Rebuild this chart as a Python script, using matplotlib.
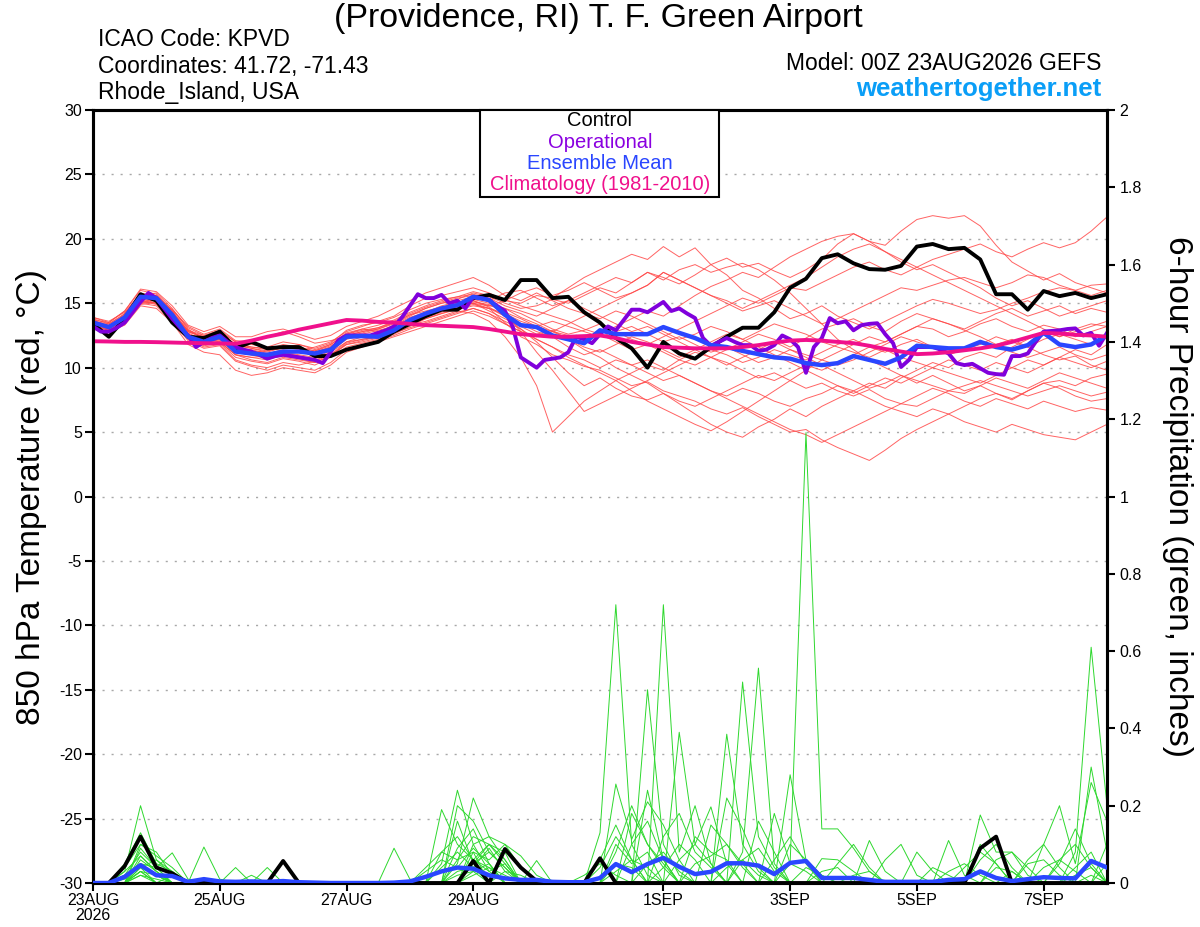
import numpy as np
import matplotlib
matplotlib.use("Agg")
import matplotlib.pyplot as plt
from matplotlib.patches import Rectangle

plt.rcParams['font.family'] = ['Liberation Sans', 'DejaVu Sans']

# ---------------- DATA ----------------
n_steps = 65            # 6-hourly, 23AUG00Z .. 8SEP00Z
n_op = 129              # operational run, 3-hourly
tick_days = [0, 2, 4, 6, 9, 11, 13, 15]
tick_labels = ['23AUG\n2026', '25AUG', '27AUG', '29AUG', '1SEP', '3SEP', '5SEP', '7SEP']
temp_ticks = [-30, -25, -20, -15, -10, -5, 0, 5, 10, 15, 20, 25, 30]
precip_ticks = [0, 0.2, 0.4, 0.6, 0.8, 1, 1.2, 1.4, 1.6, 1.8, 2]
precip_tick_labels = ['0', '0.2', '0.4', '0.6', '0.8', '1', '1.2', '1.4', '1.6', '1.8', '2']

control_temp = [13.4, 12.4, 13.8, 15.7, 15.2, 13.5, 12.4, 12.3, 12.8, 11.5, 12.0, 11.5, 11.6,
                11.6, 10.9, 10.9, 11.4, 11.7, 12.0, 12.8, 13.4, 14.0, 14.5, 14.5, 15.4, 15.65,
                15.25, 16.8, 16.8, 15.4, 15.5, 14.3, 13.5, 12.3, 11.5, 10.0, 12.0, 11.1, 10.7,
                11.6, 12.4, 13.1, 13.1, 14.3, 16.2, 16.9, 18.5, 18.8, 18.1, 17.65, 17.6, 17.9,
                19.4, 19.6, 19.2, 19.3, 18.4, 15.7, 15.7, 14.5, 15.95, 15.55, 15.8, 15.4, 15.7]

mean_temp = [13.5, 13.15, 13.9, 15.5, 15.4, 14.1, 12.4, 12.0, 12.4, 11.25, 11.1, 11.0, 11.25,
             11.25, 11.1, 11.4, 12.4, 12.45, 12.4, 12.9, 13.7, 14.2, 14.6, 14.85, 15.5, 15.25,
             14.1, 13.3, 13.15, 12.5, 12.2, 11.9, 12.9, 12.6, 12.6, 12.6, 13.15, 12.7, 12.3,
             11.75, 11.6, 11.3, 11.05, 10.8, 10.7, 10.35, 10.2, 10.35, 10.9, 10.6, 10.3, 10.8,
             11.7, 11.6, 11.5, 11.5, 12.0, 11.6, 11.4, 11.75, 12.7, 11.8, 11.6, 11.8, 12.5]

clim_temp = [12.05, 12.03, 12.0, 12.0, 11.98, 11.95, 11.92, 11.9, 11.88, 11.86, 12.1, 12.4, 12.65,
             12.95, 13.2, 13.45, 13.7, 13.65, 13.55, 13.5, 13.4, 13.3, 13.25, 13.2, 13.15, 13.0,
             12.8, 12.6, 12.5, 12.4, 12.4, 12.45, 12.5, 12.3, 12.0, 11.8, 11.6, 11.55, 11.5,
             11.5, 11.5, 11.6, 11.75, 11.95, 12.1, 12.15, 12.1, 12.0, 11.9, 11.7, 11.45, 11.25,
             11.05, 11.1, 11.2, 11.35, 11.5, 11.7, 12.0, 12.35, 12.7, 12.65, 12.55, 12.5, 12.4]

oper_temp = [13.2, 12.8, 12.8, 13.1, 13.5, 14.3, 15.1, 15.8, 15.4, 14.6, 13.8, 13.1, 12.5, 11.6,
             12.0, 12.3, 12.5, 12.0, 11.6, 11.4, 11.25, 11.0, 10.7, 10.9, 11.0, 10.9, 10.8, 10.7,
             10.6, 10.35, 11.2, 12.15, 12.5, 12.5, 12.5, 12.5, 12.7, 12.9, 13.2, 13.9, 14.8, 15.7,
             15.4, 15.4, 15.65, 15.0, 15.2, 14.6, 15.5, 15.4, 15.25, 14.8, 14.4, 13.15, 10.8, 10.4,
             10.0, 10.6, 10.7, 10.8, 11.2, 12.4, 12.2, 11.9, 12.6, 13.2, 12.9, 13.7, 14.5, 14.5,
             14.3, 14.7, 15.1, 14.4, 14.6, 14.2, 13.85, 12.3, 11.7, 12.0, 12.3, 12.0, 11.75, 11.75,
             11.3, 11.4, 11.75, 12.5, 12.2, 11.6, 9.6, 11.6, 12.3, 13.85, 13.45, 13.6, 12.9, 13.3,
             13.4, 13.45, 12.6, 11.9, 10.05, 10.6, 11.6, 11.6, 11.6, 11.4, 11.1, 10.35, 10.2, 10.3,
             9.95, 9.6, 9.5, 9.45, 10.9, 10.9, 11.1, 12.0, 12.8, 12.85, 12.9, 13.0, 13.05, 12.5,
             12.7, 11.7, 12.7]

member_temps = [
    [13.6, 13.0, 14.2, 15.8, 15.5, 14.3, 12.8, 12.4, 12.6, 11.7, 11.5, 11.2, 11.6, 11.4, 11.0, 11.5,
     12.5, 12.8, 13.0, 13.4, 14.0, 14.6, 15.0, 15.3, 15.8, 15.5, 15.0, 14.6, 14.8, 15.3, 15.0, 15.6,
     16.2, 15.8, 16.6, 17.4, 17.0, 16.5, 17.2, 18.0, 18.5, 17.8, 18.1, 17.5, 17.0, 17.6, 18.4, 19.6,
     20.4, 19.8, 19.5, 20.6, 21.5, 21.8, 21.6, 21.8, 21.0, 19.5, 18.2, 17.5, 16.8, 17.3, 16.6, 16.2, 15.8],
    [13.4, 13.3, 14.0, 15.6, 15.8, 14.6, 13.0, 12.2, 12.0, 11.0, 10.8, 10.6, 11.0, 11.3, 11.6, 12.0,
     12.8, 13.2, 13.6, 14.0, 14.8, 15.4, 15.6, 15.9, 16.2, 15.8, 15.2, 15.0, 15.6, 15.4, 16.2, 17.0,
     17.6, 18.2, 18.8, 18.4, 19.4, 18.6, 19.3, 18.0, 17.2, 16.0, 15.4, 14.6, 13.8, 14.2, 14.8, 14.0,
     13.5, 13.0, 13.6, 14.2, 14.8, 15.3, 15.0, 14.6, 14.2, 14.5, 15.0, 15.4, 15.9, 16.2, 16.0, 16.4, 16.5],
    [13.2, 12.9, 13.6, 15.2, 15.0, 13.8, 12.3, 11.6, 11.8, 10.6, 10.2, 10.0, 10.4, 10.2, 10.5, 11.0,
     11.8, 12.0, 12.3, 12.6, 13.2, 13.8, 14.2, 14.5, 14.8, 14.6, 13.5, 12.4, 11.8, 11.0, 10.6, 10.1,
     9.8, 9.2, 8.6, 8.9, 8.2, 7.8, 7.4, 6.8, 6.4, 6.9, 6.2, 5.6, 5.0, 5.2, 4.4, 3.8,
     3.3, 2.8, 3.6, 4.5, 5.2, 5.8, 6.4, 7.0, 7.6, 8.0, 7.5, 8.2, 8.8, 9.0, 8.6, 9.2, 9.5],
    [13.8, 13.4, 14.1, 15.5, 15.2, 14.0, 12.6, 12.0, 12.1, 11.2, 11.0, 10.8, 11.1, 10.9, 10.7, 11.2,
     12.0, 12.2, 12.4, 12.9, 13.3, 13.6, 14.0, 14.4, 14.2, 13.6, 12.4, 10.8, 8.6, 5.0, 6.2, 7.4,
     8.2, 9.0, 9.6, 10.2, 9.8, 10.6, 11.2, 10.8, 11.4, 12.0, 12.6, 12.2, 11.6, 12.3, 13.0, 13.4,
     13.8, 13.2, 12.8, 13.6, 14.2, 13.8, 13.4, 12.9, 12.4, 11.8, 12.2, 11.6, 11.0, 10.6, 10.9, 10.2, 9.8],
    [13.0, 12.7, 13.5, 15.0, 15.3, 14.2, 12.9, 12.3, 12.6, 11.6, 11.2, 11.3, 11.5, 11.8, 11.4, 11.8,
     12.6, 13.0, 12.8, 13.3, 13.9, 14.3, 14.8, 15.1, 15.0, 14.4, 13.8, 13.2, 12.6, 12.9, 12.2, 11.4,
     10.8, 10.0, 9.4, 8.8, 8.0, 7.2, 6.4, 5.6, 5.0, 4.6, 5.4, 6.0, 6.8, 6.2, 7.0, 7.6,
     8.2, 8.8, 8.4, 9.2, 9.8, 10.4, 10.0, 10.8, 11.2, 10.8, 11.6, 12.2, 12.8, 12.4, 13.0, 13.4, 13.2],
    [13.5, 13.1, 13.8, 15.3, 15.6, 14.4, 12.7, 12.1, 12.4, 11.4, 11.3, 11.0, 11.2, 10.9, 10.6, 11.0,
     12.0, 12.4, 12.7, 13.1, 13.6, 14.0, 14.4, 14.8, 15.3, 15.0, 14.6, 14.2, 13.6, 13.0, 12.6, 12.9,
     13.4, 12.8, 12.2, 11.8, 12.4, 13.0, 13.6, 14.2, 14.8, 15.4, 15.0, 15.6, 16.2, 16.0, 16.6, 17.2,
     17.8, 18.2, 17.6, 17.2, 17.8, 18.4, 18.8, 19.2, 19.6, 19.0, 18.6, 19.2, 19.7, 19.3, 19.7, 20.6, 21.7],
    [13.7, 13.5, 14.4, 16.0, 15.7, 14.4, 12.9, 12.5, 12.9, 12.0, 11.8, 11.6, 12.0, 11.8, 11.5, 11.9,
     12.9, 13.3, 13.5, 13.9, 14.5, 15.0, 15.3, 15.5, 15.9, 15.6, 15.3, 14.8, 14.4, 14.0, 13.6, 13.0,
     12.6, 13.2, 13.8, 14.4, 14.0, 14.8, 15.6, 16.3, 16.8, 17.4, 17.0, 17.8, 18.6, 19.2, 19.8, 20.2,
     20.4, 19.8, 19.0, 18.2, 17.6, 18.0, 17.4, 16.8, 16.2, 15.4, 14.8, 15.2, 14.6, 14.0, 14.4, 14.8, 15.2],
    [13.3, 13.0, 13.7, 15.1, 15.0, 13.9, 12.4, 11.8, 12.0, 11.0, 10.8, 10.9, 11.2, 11.0, 10.8, 11.3,
     12.2, 12.5, 12.6, 13.0, 13.5, 14.1, 14.5, 14.8, 15.1, 14.9, 14.3, 13.8, 13.2, 12.8, 12.5, 12.2,
     12.6, 12.0, 11.4, 11.8, 11.2, 10.6, 10.2, 10.8, 10.4, 9.8, 9.2, 9.6, 9.0, 8.4, 8.8, 8.2,
     7.8, 8.3, 7.6, 7.2, 7.8, 8.4, 8.0, 7.4, 7.0, 7.6, 7.2, 6.8, 7.4, 7.0, 6.6, 6.9, 6.7],
    [13.9, 13.6, 14.3, 15.7, 15.4, 14.5, 13.2, 12.6, 13.0, 12.1, 12.0, 12.4, 12.8, 12.4, 11.9, 12.1,
     12.4, 12.7, 13.0, 13.5, 14.1, 14.4, 14.7, 15.0, 15.2, 14.7, 14.0, 13.0, 12.0, 10.8, 9.6, 8.6,
     9.2, 8.4, 7.8, 7.5, 8.0, 7.4, 7.0, 7.6, 8.2, 8.8, 9.4, 9.0, 9.6, 10.2, 9.8, 10.4,
     11.0, 11.6, 11.2, 11.8, 12.2, 11.6, 11.0, 11.4, 11.8, 12.4, 12.0, 11.6, 12.2, 12.6, 12.2, 11.8, 12.3],
    [13.1, 12.8, 13.4, 14.9, 15.1, 14.0, 12.5, 11.9, 12.2, 11.3, 11.0, 10.7, 10.9, 10.7, 10.4, 10.9,
     11.8, 12.1, 12.4, 12.8, 13.4, 13.9, 14.3, 14.7, 15.0, 14.8, 15.2, 15.8, 16.2, 15.6, 16.0, 16.6,
     16.0, 15.4, 15.8, 16.4, 17.4, 16.8, 16.2, 15.6, 15.0, 14.4, 14.8, 15.2, 14.6, 14.0, 13.4, 13.8,
     14.4, 15.0, 15.6, 16.2, 16.0, 16.4, 16.8, 17.0, 16.6, 16.2, 16.6, 17.2, 17.0, 16.4, 16.0, 15.6, 16.0],
    [13.4, 13.2, 14.0, 15.4, 15.0, 13.7, 12.2, 11.7, 11.9, 10.8, 10.5, 10.3, 10.7, 10.5, 10.2, 10.8,
     11.6, 11.9, 12.2, 12.7, 13.1, 13.5, 13.9, 14.3, 14.6, 14.2, 13.4, 12.8, 12.2, 11.6, 11.0, 10.6,
     10.0, 10.6, 10.2, 9.6, 9.0, 9.4, 8.8, 8.2, 7.8, 8.4, 8.0, 7.4, 7.0, 7.6, 8.0, 8.6,
     8.2, 7.6, 7.0, 6.6, 6.2, 6.8, 6.4, 5.8, 5.4, 5.0, 5.6, 5.2, 4.8, 4.6, 4.4, 5.0, 5.6],
    [13.6, 13.3, 14.0, 15.5, 15.4, 14.1, 12.6, 12.2, 12.4, 11.5, 11.4, 11.1, 11.4, 11.2, 11.2, 11.6,
     12.6, 12.9, 13.1, 13.6, 14.2, 14.7, 15.1, 15.4, 15.6, 15.1, 14.2, 12.8, 11.2, 9.8, 8.2, 6.6,
     7.2, 7.8, 8.4, 9.0, 9.6, 10.2, 10.8, 11.4, 11.0, 10.4, 10.8, 11.4, 11.0, 10.6, 11.2, 11.8,
     12.2, 11.6, 12.0, 12.6, 13.2, 13.0, 12.4, 12.8, 13.4, 13.8, 13.2, 12.8, 13.3, 13.0, 12.4, 12.8, 13.2],
    [13.2, 13.0, 13.6, 15.2, 15.2, 14.2, 12.8, 12.3, 12.6, 11.8, 11.5, 11.3, 11.6, 11.5, 11.3, 11.7,
     12.4, 12.6, 12.9, 13.2, 13.8, 14.2, 14.6, 14.9, 15.2, 14.8, 14.6, 13.9, 13.4, 12.8, 12.2, 11.6,
     11.2, 11.8, 12.4, 12.0, 11.4, 10.8, 11.4, 12.0, 12.6, 12.2, 11.6, 11.0, 10.4, 9.8, 9.2, 8.6,
     8.0, 8.6, 9.2, 8.8, 9.4, 10.0, 9.6, 9.2, 8.8, 9.4, 10.0, 10.6, 10.2, 10.8, 11.4, 11.0, 11.8],
    [13.5, 13.0, 13.7, 15.2, 14.9, 13.8, 12.3, 11.8, 12.0, 11.0, 10.6, 10.4, 10.8, 10.6, 10.4, 10.9,
     11.9, 12.2, 12.4, 12.9, 13.4, 13.8, 14.2, 14.6, 14.9, 14.6, 14.0, 13.4, 12.8, 12.4, 11.6, 11.0,
     11.4, 10.8, 10.2, 10.6, 10.0, 9.4, 8.8, 8.2, 7.6, 7.0, 6.4, 5.8, 5.2, 4.8, 4.2, 4.8,
     5.4, 6.0, 6.6, 7.2, 7.0, 7.6, 8.2, 8.0, 8.6, 9.2, 8.8, 8.4, 9.0, 9.6, 9.2, 8.8, 8.4],
    [13.9, 13.5, 14.4, 16.1, 15.9, 14.8, 13.3, 12.8, 13.2, 12.4, 12.4, 12.8, 13.0, 12.6, 12.2, 12.5,
     13.2, 13.6, 14.0, 14.6, 15.2, 15.8, 16.2, 16.6, 17.0, 16.4, 15.6, 15.2, 15.8, 15.2, 14.6, 14.2,
     13.8, 14.4, 14.0, 13.4, 12.8, 12.2, 12.6, 13.2, 12.8, 12.2, 12.8, 13.4, 13.0, 12.6, 12.0, 11.6,
     11.2, 10.8, 11.4, 10.8, 10.4, 10.0, 10.6, 10.2, 9.8, 10.4, 10.0, 9.6, 10.2, 10.8, 10.4, 10.0, 10.5],
    [13.3, 12.9, 13.5, 15.0, 14.8, 13.6, 12.1, 11.5, 11.7, 10.5, 10.1, 9.8, 10.2, 10.0, 9.8, 10.4,
     11.4, 11.8, 12.1, 12.5, 13.0, 13.4, 13.8, 14.2, 14.6, 14.2, 13.6, 13.0, 12.2, 11.6, 10.8, 10.2,
     9.6, 9.0, 8.2, 7.4, 6.8, 6.2, 5.6, 5.1, 5.8, 6.6, 7.4, 8.2, 9.0, 9.8, 10.6, 11.2,
     11.8, 12.4, 12.0, 12.6, 13.2, 13.8, 13.4, 13.0, 13.6, 14.2, 14.6, 14.0, 14.4, 14.8, 14.2, 14.6, 14.3],
    [13.6, 13.4, 14.2, 15.7, 15.6, 14.5, 13.1, 12.5, 12.8, 11.8, 11.6, 11.4, 11.8, 11.6, 11.3, 11.8,
     12.7, 13.0, 13.3, 13.7, 14.3, 14.8, 15.2, 15.5, 15.7, 15.4, 14.8, 14.4, 14.0, 14.6, 15.2, 15.8,
     16.4, 17.0, 16.6, 17.4, 16.8, 17.6, 18.0, 17.4, 17.8, 18.1, 17.6, 16.8, 15.8, 14.6, 13.4, 12.2,
     11.4, 10.6, 10.0, 9.4, 8.8, 9.4, 8.8, 8.2, 8.6, 8.0, 7.6, 8.2, 8.8, 8.4, 7.8, 7.4, 7.6],
    [13.4, 13.1, 13.9, 15.4, 15.2, 14.0, 12.4, 12.0, 12.2, 11.2, 11.0, 10.9, 11.1, 11.2, 11.0, 11.4,
     12.3, 12.5, 12.6, 13.1, 13.7, 14.2, 14.5, 14.8, 15.0, 14.6, 14.2, 13.6, 13.2, 13.6, 13.2, 12.8,
     12.4, 12.8, 13.2, 12.6, 12.0, 12.4, 11.8, 11.2, 11.6, 11.0, 10.4, 10.8, 11.4, 11.0, 10.6, 10.2,
     10.6, 11.2, 11.8, 12.4, 12.0, 11.6, 11.2, 11.6, 12.0, 11.6, 11.2, 10.8, 11.2, 11.6, 11.0, 10.6, 11.0],
    [13.7, 13.2, 13.9, 15.4, 15.5, 14.3, 12.8, 12.4, 12.8, 12.0, 11.6, 11.5, 11.7, 11.4, 11.2, 11.6,
     12.5, 12.8, 13.1, 13.5, 14.1, 14.6, 15.0, 15.2, 15.5, 15.2, 15.8, 16.0, 15.4, 14.8, 15.2, 14.6,
     14.0, 13.4, 12.8, 13.2, 12.6, 12.0, 11.4, 10.8, 10.2, 10.8, 11.4, 12.0, 11.4, 10.8, 10.2, 9.6,
     9.0, 8.4, 8.8, 9.4, 9.0, 8.6, 8.2, 8.6, 9.0, 8.6, 8.2, 7.8, 8.2, 8.6, 8.2, 7.8, 8.1],
    [13.0, 12.8, 13.3, 14.8, 14.6, 13.5, 11.8, 11.2, 11.0, 9.8, 9.4, 9.6, 10.0, 9.8, 9.6, 10.2,
     11.2, 11.6, 12.0, 12.4, 12.8, 13.2, 13.6, 14.0, 14.4, 14.0, 13.4, 12.8, 12.4, 12.8, 13.4, 14.0,
     14.6, 15.2, 15.8, 16.4, 17.4, 16.8, 16.2, 15.6, 15.2, 14.6, 15.2, 15.8, 16.4, 17.0, 17.8, 18.6,
     19.2, 19.6, 19.0, 18.4, 17.8, 17.2, 16.6, 16.0, 15.4, 14.8, 14.2, 13.6, 13.0, 12.4, 12.8, 13.2, 13.6],
]

control_precip = [0, 0, 0.044, 0.12, 0.04, 0.025, 0, 0, 0, 0, 0, 0, 0.057, 0, 0, 0, 0, 0, 0, 0,
                  0, 0, 0, 0, 0.057, 0, 0.088, 0.04, 0.005, 0, 0, 0, 0.064, 0, 0, 0, 0, 0, 0, 0,
                  0, 0, 0, 0, 0, 0, 0, 0, 0, 0, 0, 0, 0, 0, 0, 0, 0.09, 0.12, 0, 0, 0, 0, 0, 0, 0]

mean_precip = [0, 0, 0.016, 0.046, 0.02, 0.018, 0.003, 0.01, 0.004, 0.003, 0.004, 0.003, 0.005,
               0.002, 0.001, 0, 0, 0, 0, 0.001, 0.004, 0.016, 0.03, 0.04, 0.037, 0.02, 0.012,
               0.008, 0.008, 0.003, 0.002, 0.002, 0.013, 0.049, 0.028, 0.049, 0.065, 0.042, 0.023,
               0.029, 0.051, 0.051, 0.045, 0.023, 0.052, 0.057, 0.013, 0.013, 0.013, 0.008, 0.003,
               0.003, 0.003, 0.003, 0.008, 0.01, 0.03, 0.013, 0.005, 0.01, 0.015, 0.013, 0.012,
               0.057, 0.04]

# member precipitation: {6-hour step: inches}; steps not listed are 0
member_precip = [
    {2: 0.03, 3: 0.2, 4: 0.06, 5: 0.02, 22: 0.05, 23: 0.24, 24: 0.1, 25: 0.03, 32: 0.13, 33: 0.72,
     34: 0.1, 35: 0.02, 44: 0.05, 45: 1.165, 46: 0.14, 47: 0.14, 48: 0.09, 49: 0.03, 63: 0.02},
    {2: 0.05, 3: 0.13, 4: 0.05, 5: 0.03, 19: 0.09, 20: 0.01, 23: 0.05, 24: 0.22, 25: 0.12, 26: 0.06,
     35: 0.5, 36: 0.1, 37: 0.02, 41: 0.08, 42: 0.556, 43: 0.05, 56: 0.176, 57: 0.08, 58: 0.08, 59: 0.02},
    {3: 0.1, 4: 0.08, 5: 0.02, 7: 0.093, 8: 0.01, 22: 0.19, 23: 0.1, 24: 0.06, 25: 0.04, 36: 0.72,
     37: 0.08, 38: 0.2, 39: 0.05, 62: 0.08, 63: 0.61, 64: 0.2},
    {2: 0.02, 3: 0.08, 4: 0.04, 5: 0.078, 6: 0.01, 23: 0.2, 24: 0.16, 25: 0.08, 26: 0.04, 37: 0.39,
     38: 0.1, 39: 0.197, 40: 0.05, 60: 0.1, 61: 0.2, 62: 0.05, 63: 0.26, 64: 0.16},
    {3: 0.06, 4: 0.03, 9: 0.04, 24: 0.1, 25: 0.12, 26: 0.1, 27: 0.04, 33: 0.256, 34: 0.113, 35: 0.21,
     36: 0.15, 37: 0.06, 40: 0.385, 41: 0.1, 42: 0.03, 54: 0.11, 55: 0.02},
    {2: 0.04, 3: 0.1, 4: 0.07, 5: 0.04, 22: 0.08, 23: 0.12, 24: 0.06, 25: 0.1, 26: 0.08, 28: 0.058,
     35: 0.24, 36: 0.06, 41: 0.52, 42: 0.12, 43: 0.04, 56: 0.06, 57: 0.1, 58: 0.04},
    {3: 0.05, 4: 0.02, 11: 0.04, 21: 0.04, 22: 0.08, 23: 0.06, 24: 0.12, 25: 0.1, 26: 0.05, 32: 0.06,
     33: 0.15, 34: 0.06, 40: 0.22, 41: 0.14, 42: 0.04, 49: 0.11, 50: 0.03, 61: 0.06, 62: 0.1, 63: 0.04},
    {2: 0.03, 3: 0.07, 4: 0.03, 23: 0.16, 24: 0.05, 25: 0.1, 26: 0.06, 34: 0.18, 35: 0.1, 36: 0.05,
     43: 0.18, 44: 0.05, 45: 0.03, 57: 0.06, 58: 0.08, 59: 0.04},
    {3: 0.04, 4: 0.06, 5: 0.03, 24: 0.08, 25: 0.06, 26: 0.1, 27: 0.07, 28: 0.02, 33: 0.1, 34: 0.05,
     35: 0.08, 38: 0.12, 39: 0.08, 40: 0.06, 46: 0.063, 47: 0.06, 48: 0.03, 60: 0.04, 61: 0.06,
     62: 0.03, 64: 0.1},
    {2: 0.02, 3: 0.05, 4: 0.02, 21: 0.03, 22: 0.06, 23: 0.04, 24: 0.09, 25: 0.05, 36: 0.12, 37: 0.18,
     38: 0.08, 39: 0.04, 44: 0.1, 45: 0.06, 46: 0.02, 53: 0.04, 54: 0.02, 62: 0.04, 63: 0.08},
    {3: 0.09, 4: 0.04, 23: 0.09, 24: 0.14, 25: 0.05, 33: 0.08, 34: 0.2, 35: 0.1, 36: 0.04, 42: 0.16,
     43: 0.08, 50: 0.06, 51: 0.1, 52: 0.02},
    {2: 0.02, 3: 0.04, 4: 0.02, 24: 0.05, 25: 0.08, 26: 0.04, 32: 0.04, 33: 0.12, 34: 0.06, 39: 0.15,
     40: 0.1, 41: 0.04, 55: 0.04, 56: 0.08, 57: 0.05},
    {3: 0.03, 10: 0.02, 22: 0.04, 23: 0.08, 24: 0.04, 37: 0.06, 38: 0.1, 39: 0.05, 44: 0.28, 45: 0.06,
     59: 0.06, 60: 0.1, 61: 0.04, 63: 0.3, 64: 0.08},
    {3: 0.07, 4: 0.03, 24: 0.06, 25: 0.03, 26: 0.05, 34: 0.1, 35: 0.16, 36: 0.06, 47: 0.05, 48: 0.1,
     49: 0.04, 56: 0.1, 57: 0.05},
    {3: 0.02, 23: 0.03, 24: 0.04, 25: 0.09, 26: 0.03, 33: 0.05, 34: 0.04, 43: 0.06, 44: 0.12, 45: 0.05,
     52: 0.08, 53: 0.03, 61: 0.05, 62: 0.14, 63: 0.05},
    {2: 0.01, 3: 0.05, 4: 0.04, 24: 0.02, 25: 0.04, 26: 0.02, 36: 0.04, 37: 0.1, 38: 0.06, 41: 0.06,
     42: 0.09, 43: 0.03, 57: 0.04, 58: 0.03, 64: 0.05},
    {3: 0.03, 4: 0.02, 23: 0.06, 24: 0.08, 38: 0.05, 39: 0.07, 40: 0.1, 41: 0.05, 46: 0.03, 47: 0.04,
     59: 0.05, 60: 0.06, 61: 0.02},
    {3: 0.04, 5: 0.02, 24: 0.03, 25: 0.05, 33: 0.03, 34: 0.06, 35: 0.04, 45: 0.04, 46: 0.02, 54: 0.03,
     55: 0.05, 56: 0.02},
    {3: 0.02, 4: 0.01, 26: 0.03, 27: 0.02, 35: 0.05, 36: 0.08, 37: 0.03, 48: 0.02, 49: 0.03, 62: 0.02,
     63: 0.04},
    {3: 0.03, 23: 0.02, 24: 0.03, 31: 0.02, 32: 0.05, 33: 0.02, 40: 0.04, 41: 0.06, 42: 0.02, 58: 0.03},
]

# ---------------- PLOT ----------------
W, H = 1200, 927
fig = plt.figure(figsize=(W / 100, H / 100), dpi=100)
L, R, T, B = 93, 1107, 110, 883
ax = fig.add_axes([L / W, 1 - B / H, (R - L) / W, (B - T) / H])
ax2 = ax.twinx()

days = np.arange(n_steps) * 0.25
op_days = np.arange(n_op) * 0.125

for m in member_temps:
    ax.plot(days, m, color='#FF4848', lw=0.7, alpha=0.85, zorder=2)

ax.plot(days, control_temp, color='black', lw=2.8, zorder=4)
ax.plot(op_days, oper_temp, color='#8000DC', lw=2.8, zorder=5)
ax.plot(days, mean_temp, color='#2A46FF', lw=3.2, zorder=6)
ax.plot(days, clim_temp, color='#F0108C', lw=2.8, zorder=7)

for d in member_precip:
    vals = np.zeros(n_steps)
    for k, v in d.items():
        vals[k] = v
    ax2.plot(days, vals, color='#2ED82E', lw=0.7, zorder=2)
ax2.plot(days, control_precip, color='black', lw=2.8, zorder=4)
ax2.plot(days, mean_precip, color='#2A46FF', lw=3.2, zorder=5)

ax.set_xlim(0, 16)
ax.set_ylim(-30, 30)
ax2.set_ylim(0, 2)

ax.set_yticks(temp_ticks)
ax.set_yticklabels([str(t) for t in temp_ticks], fontsize=11.5)
ax2.set_yticks(precip_ticks)
ax2.set_yticklabels(precip_tick_labels, fontsize=11.5)
ax.set_xticks(tick_days)
ax.set_xticklabels(tick_labels, fontsize=11.5, linespacing=1.05)

for t in temp_ticks[1:-1]:
    ax.axhline(t, color='#A8A8A8', lw=1.0, linestyle=(0, (1.5, 5)), zorder=1)

for a in (ax, ax2):
    for s in a.spines.values():
        s.set_linewidth(2.2)
        s.set_color('black')
ax.tick_params(axis='both', direction='out', length=6, width=1.5, pad=2)
ax2.tick_params(axis='y', direction='out', length=6, width=1.5, pad=3)
ax.tick_params(axis='x', pad=1)


def px(x, y):
    return x / W, 1 - y / H


fig.text(*px(32, 497), '850 hPa Temperature (red, °C)', fontsize=24, rotation=90,
         ha='center', va='center')
fig.text(*px(1178, 497), '6-hour Precipitation (green, inches)', fontsize=24, rotation=-90,
         ha='center', va='center')

fig.text(*px(598, 18), '(Providence, RI) T. F. Green Airport', fontsize=24.5, ha='center', va='center')
fig.text(*px(98, 40), 'ICAO Code: KPVD', fontsize=16.5, ha='left', va='center')
fig.text(*px(98, 66), 'Coordinates: 41.72, -71.43', fontsize=16.5, ha='left', va='center')
fig.text(*px(98, 92), 'Rhode_Island, USA', fontsize=16.5, ha='left', va='center')
fig.text(*px(1101, 63), 'Model: 00Z 23AUG2026 GEFS', fontsize=16.5, ha='right', va='center')
fig.text(*px(1101, 89), 'weathertogether.net', fontsize=18.5, ha='right', va='center',
         color='#0A9EF7', fontweight='bold')

# legend box
lx0, lx1, ly0, ly1 = 480, 719, 110, 197
fig.patches.append(Rectangle(px(lx0, ly1), (lx1 - lx0) / W, (ly1 - ly0) / H,
                             transform=fig.transFigure, facecolor='white',
                             edgecolor='black', lw=1.5, zorder=10))
legend_items = [('Control', 'black'), ('Operational', '#8A00E0'),
                ('Ensemble Mean', '#2A46FF'), ('Climatology (1981-2010)', '#F0108C')]
for i, (txt, col) in enumerate(legend_items):
    fig.text(*px(600, 121 + i * 21.3), txt, fontsize=14.5, ha='center', va='center', color=col, zorder=11)

fig.savefig('out.png', dpi=100)
